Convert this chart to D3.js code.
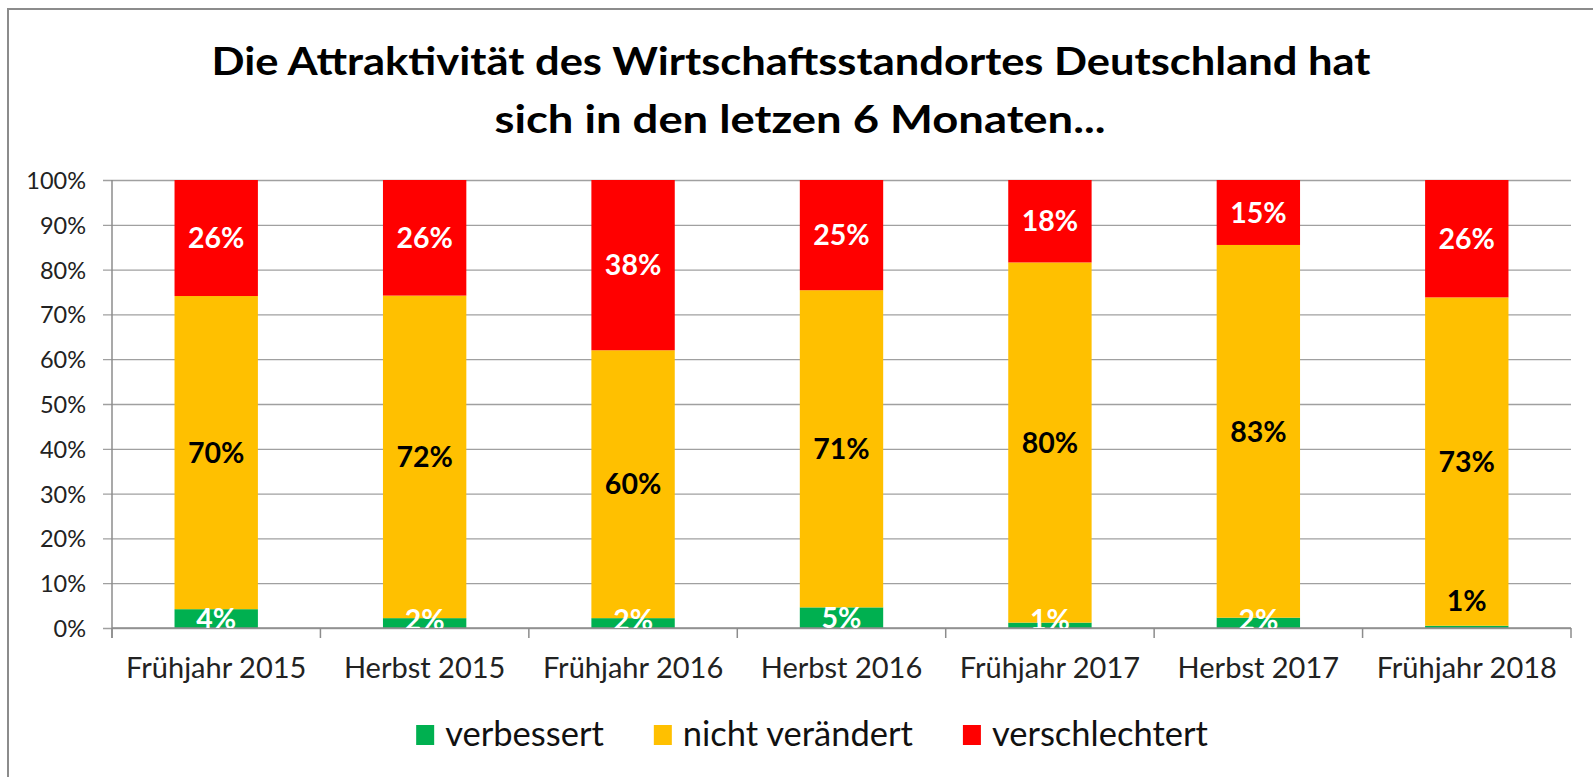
<!DOCTYPE html>
<html>
<head>
<meta charset="utf-8">
<script src="https://cdn.jsdelivr.net/npm/d3@7"></script>
<style>
  html, body { margin: 0; padding: 0; background: #fff; overflow: hidden; }
  svg { display: block; font-family: Lato, "Open Sans", sans-serif; overflow: hidden; }
</style>
</head>
<body>
<svg id="chart" width="1593" height="777"></svg>
<script>
// ---- data ----
const categories = ["Frühjahr 2015", "Herbst 2015", "Frühjahr 2016", "Herbst 2016", "Frühjahr 2017", "Herbst 2017", "Frühjahr 2018"];
const seriesNames = ["verbessert", "nicht verändert", "verschlechtert"];
const verbessert     = [4.2, 2.2, 2.2, 4.6, 1.2, 2.3, 0.5];
const nichtVeraendert = [69.9, 72.0, 59.8, 70.8, 80.4, 83.2, 73.3];
const verschlechtert = [25.9, 25.8, 38.0, 24.6, 18.4, 14.5, 26.2];
const yTickValues = [0, 0.1, 0.2, 0.3, 0.4, 0.5, 0.6, 0.7, 0.8, 0.9, 1.0];
const titleLines = ["Die Attraktivität des Wirtschaftsstandortes Deutschland hat", "sich in den letzen 6 Monaten..."];
const colors = ["#00B050", "#FFC000", "#FF0000"];
const labelColors = ["#FFFFFF", "#000000", "#FFFFFF"];

const rows = categories.map((c, i) => ({
  cat: c,
  [seriesNames[0]]: verbessert[i],
  [seriesNames[1]]: nichtVeraendert[i],
  [seriesNames[2]]: verschlechtert[i]
}));

const svg = d3.select("#chart");

// outer frame: only left and top edges fall inside the picture
svg.append("path")
  .attr("d", "M8,777 L8,9 L1593,9")
  .attr("fill", "none").attr("stroke", "#8c8c8c").attr("stroke-width", 2);

// title
const title = svg.append("text")
  .attr("text-anchor", "middle")
  .attr("font-weight", "bold")
  .attr("font-size", 39)
  .attr("fill", "#000");
title.append("tspan").attr("x", 791).attr("y", 75).text(titleLines[0])
  .attr("textLength", 1159).attr("lengthAdjust", "spacingAndGlyphs");
title.append("tspan").attr("x", 800).attr("y", 133).text(titleLines[1])
  .attr("textLength", 611).attr("lengthAdjust", "spacingAndGlyphs");

// plot geometry
const plot = { left: 112, right: 1571, top: 180, bottom: 628 };

const x = d3.scaleBand()
  .domain(categories)
  .range([plot.left, plot.right])
  .paddingInner(0.6)
  .paddingOuter(0.3);

const y = d3.scaleLinear().domain([0, 1]).range([plot.bottom, plot.top]);

// gridlines + y axis
const yAxis = d3.axisLeft(y)
  .tickValues(yTickValues)
  .tickFormat(d3.format(".0%"))
  .tickSize(-(plot.right - plot.left))
  .tickPadding(0);

const gy = svg.append("g")
  .attr("transform", `translate(${plot.left},0)`)
  .call(yAxis);
gy.select(".domain").remove();
gy.selectAll(".tick line")
  .attr("x1", -9)
  .attr("stroke", "#a0a0a0").attr("stroke-width", 1.3);
gy.selectAll(".tick text")
  .attr("x", -26)
  .attr("dy", "0.36em")
  .attr("font-size", 23.5)
  .attr("fill", "#222")
  .attr("font-family", "Lato, sans-serif");

// left axis line
svg.append("line")
  .attr("x1", plot.left).attr("x2", plot.left)
  .attr("y1", plot.top).attr("y2", plot.bottom + 10)
  .attr("stroke", "#8c8c8c").attr("stroke-width", 1.5);

// stacked bars
const stack = d3.stack().keys(seriesNames).offset(d3.stackOffsetExpand);
const series = stack(rows);

svg.append("defs").append("clipPath").attr("id", "plotclip")
  .append("rect")
  .attr("x", plot.left).attr("y", plot.top)
  .attr("width", plot.right - plot.left).attr("height", plot.bottom - plot.top);

const barG = svg.append("g");
series.forEach((s, si) => {
  barG.append("g")
    .attr("fill", colors[si])
    .selectAll("rect")
    .data(s)
    .join("rect")
    .attr("x", d => x(d.data.cat))
    .attr("width", x.bandwidth())
    .attr("y", d => y(d[1]))
    .attr("height", d => y(d[0]) - y(d[1]));
});

// bottom axis line + category ticks
svg.append("line")
  .attr("x1", plot.left).attr("x2", plot.right)
  .attr("y1", plot.bottom).attr("y2", plot.bottom)
  .attr("stroke", "#8c8c8c").attr("stroke-width", 1.5);

const boundaries = d3.range(categories.length + 1).map(i => plot.left + i * x.step());
svg.append("g").selectAll("line")
  .data(boundaries)
  .join("line")
  .attr("x1", d => d).attr("x2", d => d)
  .attr("y1", plot.bottom).attr("y2", plot.bottom + 10)
  .attr("stroke", "#8c8c8c").attr("stroke-width", 1.5);

// category labels
svg.append("g").selectAll("text")
  .data(categories)
  .join("text")
  .attr("x", d => x(d) + x.bandwidth() / 2)
  .attr("y", 678)
  .attr("text-anchor", "middle")
  .attr("font-size", 29)
  .attr("fill", "#222")
  .text(d => d);

// value labels
const labelG = svg.append("g").attr("font-weight", "bold").attr("font-size", 28.5).attr("text-anchor", "middle");
series.forEach((s, si) => {
  const rawVals = [verbessert, nichtVeraendert, verschlechtert][si];
  s.forEach((d, i) => {
    const v = rawVals[i];
    const top = y(d[1]), bot = y(d[0]);
    let cy = (top + bot) / 2;
    let fill = labelColors[si];
    let clip = false;
    if (si === 0) {
      if (v < 1) {
        cy = top - 25;
        fill = "#000";
      } else {
        cy = Math.min(cy, plot.bottom - 8);
        clip = true;
      }
    }
    const t = labelG.append("text")
      .attr("x", x(d.data.cat) + x.bandwidth() / 2)
      .attr("y", cy)
      .attr("dy", "0.36em")
      .attr("fill", fill)
      .text(Math.round(v) + "%");
    if (clip) t.attr("clip-path", "url(#plotclip)");
  });
});

// legend
const legend = svg.append("g");
const legendFont = 34.5;
const items = [];
seriesNames.forEach((name, i) => {
  const g = legend.append("g");
  g.append("rect")
    .attr("x", 0).attr("y", 725).attr("width", 18).attr("height", 20)
    .attr("fill", colors[i]);
  const t = g.append("text")
    .attr("x", 29).attr("y", 746)
    .attr("font-size", legendFont)
    .attr("fill", "#111")
    .text(name);
  const w = 29 + t.node().getComputedTextLength();
  items.push({ g, w });
});
const gap = 50;
const total = d3.sum(items, d => d.w) + gap * (items.length - 1);
let start = 812 - total / 2;
items.forEach(it => {
  it.g.attr("transform", `translate(${start},0)`);
  start += it.w + gap;
});
</script>
</body>
</html>
